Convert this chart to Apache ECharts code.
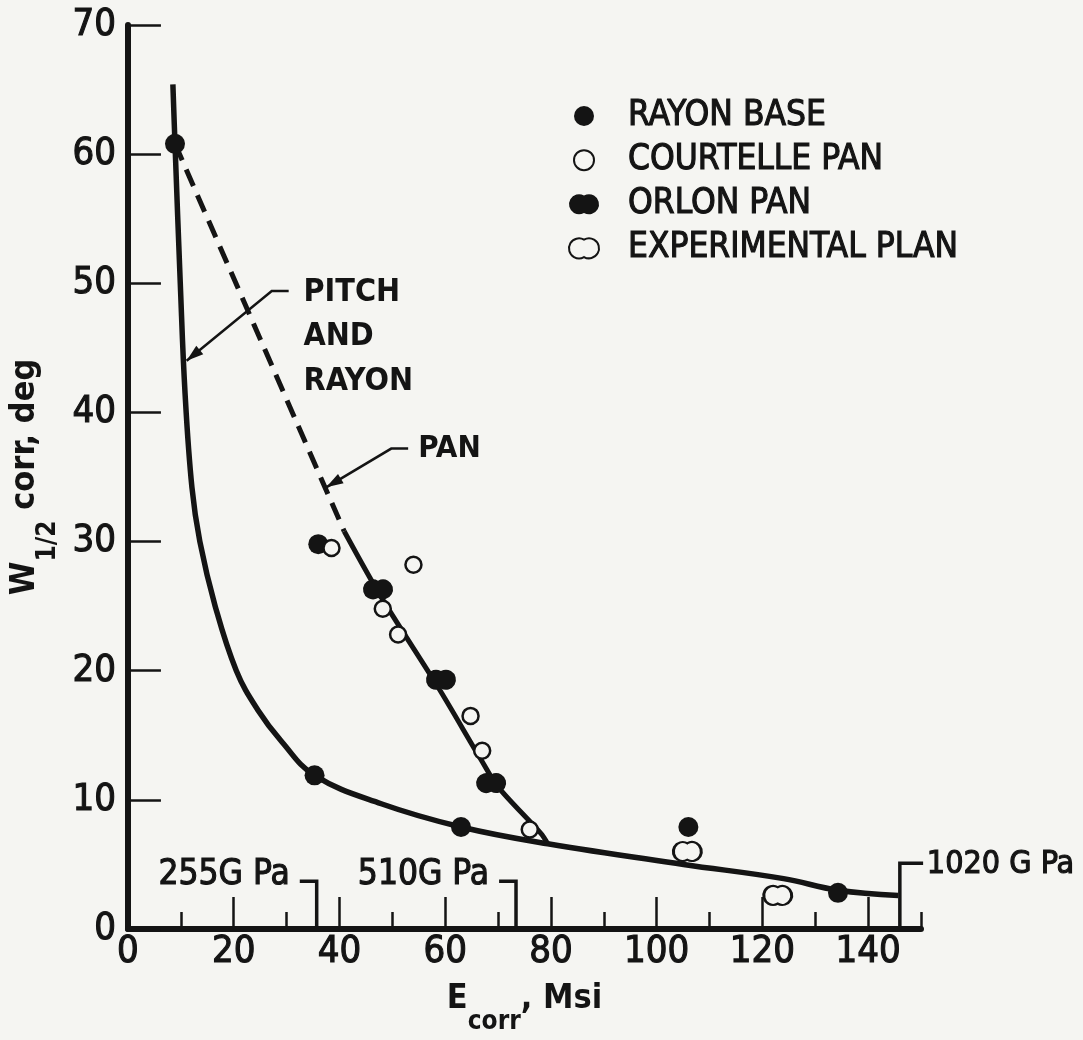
<!DOCTYPE html>
<html><head><meta charset="utf-8">
<script src="https://cdn.jsdelivr.net/npm/echarts@6/dist/echarts.min.js"></script>
<style>html,body{margin:0;padding:0;background:#f5f5f2}#c{width:1083px;height:1040px}</style>
</head><body><div id="c"></div>
<script>
// ---- data ----
const rayonBase = [[8.9, 60.8], [36.0, 29.8], [35.3, 11.9], [63.0, 7.9], [106.0, 7.9], [134.3, 2.8]];
const courtellePan = [[38.5, 29.5], [54.0, 28.2], [48.2, 24.8], [51.1, 22.8], [64.8, 16.5], [67.0, 13.8], [76.0, 7.7]];
const orlonPan = [[47.3, 26.3], [59.2, 19.3], [68.7, 11.3]];
const experimentalPlan = [[105.8, 6.0], [122.9, 2.6]];
const pitchRayonCurve = [[8.5, 65.4], [8.9, 60.8], [9.9, 50.0], [10.8, 41.5], [12.1, 34.2], [13.6, 30.0], [16.5, 25.0], [20.5, 20.0], [24.5, 17.0], [29.1, 14.5], [35.3, 11.9], [47.9, 9.7], [63.0, 7.9], [79.4, 6.6], [105.1, 5.0], [124.0, 3.9], [134.3, 3.0], [145.7, 2.6]];
const panDashed = [[8.9, 60.8], [40.9, 30.8]];
const panSolid = [[40.9, 30.8], [47.9, 25.7], [58.7, 18.7], [66.8, 13.1], [70.0, 11.0], [78.1, 7.4], [79.4, 6.6]];
const xTickLabels = [0, 20, 40, 60, 80, 100, 120, 140];
const xMajorTicks = [20, 40, 60, 80, 100, 120, 140];
const yTickLabels = [0, 10, 20, 30, 40, 50, 60, 70];
const seriesNames = ['RAYON BASE', 'COURTELLE PAN', 'ORLON PAN', 'EXPERIMENTAL PLAN'];

// ---- annotation anchors (data units) ----
const notes = {
  pitchLines: [['PITCH', 33.2, 49.3], ['AND', 33.2, 45.9], ['RAYON', 33.2, 42.4]],
  pitchLeader: [[30.4, 49.4], [27.2, 49.4], [11.1, 44.0]],
  pan: ['PAN', 54.9, 37.2],
  panLeader: [[53.0, 37.2], [49.8, 37.2], [37.5, 34.2]],
  brackets: [
    {line: [[32.5, 3.7], [35.7, 3.7], [35.7, 0]], text: '255G Pa', at: [30.6, 4.2], align: 'right', size: 35},
    {line: [[70.2, 3.7], [73.4, 3.7], [73.4, 0]], text: '510G Pa', at: [68.3, 4.2], align: 'right', size: 35},
    {line: [[150.4, 5.1], [146.0, 5.1], [146.0, 0]], text: '1020 G Pa', at: [151.1, 5.0], align: 'left', size: 32}
  ]
};

const ink = '#141414';
const bg = '#f5f5f2';
const NARROW = "'Liberation Sans Narrow', 'DejaVu Sans Condensed', sans-serif";
const COND = "'DejaVu Sans Condensed', 'Liberation Sans Narrow', sans-serif";
const PEANUT = 'path://M0,-8.66A10,10 0 1,0 0,8.66A10,10 0 1,0 0,-8.66Z';
const heavy = {textBorderColor: ink, textBorderWidth: 1.1};

const chart = echarts.init(document.getElementById('c'));
const nameRich = {
  m: {fontFamily: COND, fontWeight: 'bold', fontSize: 34, color: ink, lineHeight: 40, verticalAlign: 'top'},
  s: {fontFamily: COND, fontWeight: 'bold', fontSize: 26, color: ink, lineHeight: 30, padding: [27, 0, 0, 0], verticalAlign: 'top'}
};
const option = {
  backgroundColor: bg,
  animation: false,
  grid: {left: 126, right: 162, top: 25, bottom: 107, containLabel: false},
  legend: {
    data: seriesNames, orient: 'vertical', left: 563, top: 93,
    itemWidth: 78, itemHeight: 20, itemGap: 8, symbolKeepAspect: true,
    selectedMode: false,
    textStyle: Object.assign({fontFamily: COND, fontSize: 35, color: ink, lineHeight: 36}, heavy)
  },
  xAxis: [{
    type: 'value', min: 0, max: 150, interval: 10,
    name: '{m|E}{s|corr}{m|, Msi}', nameLocation: 'middle', nameGap: 53,
    nameTextStyle: {rich: nameRich},
    axisLine: {show: true, onZero: false, lineStyle: {color: ink, width: 6}},
    axisTick: {show: true, inside: true, length: 32, customValues: xMajorTicks, lineStyle: {color: ink, width: 2.5}},
    axisLabel: Object.assign({customValues: xTickLabels, margin: 4, fontFamily: NARROW, fontSize: 38, color: ink}, heavy),
    splitLine: {show: false}
  }, {
    type: 'value', min: 0, max: 150, interval: 10, position: 'bottom',
    axisLine: {show: false},
    axisTick: {show: true, inside: true, length: 17, lineStyle: {color: ink, width: 2.5}},
    axisLabel: {show: false}, splitLine: {show: false}
  }],
  yAxis: {
    type: 'value', min: 0, max: 70, interval: 10,
    name: '{m|W}{s|1/2}{m| corr, deg}', nameLocation: 'middle', nameGap: 63, nameRotate: 90,
    nameTextStyle: {rich: nameRich},
    axisLine: {show: true, onZero: false, lineStyle: {color: ink, width: 6}},
    axisTick: {show: true, inside: true, length: 33, lineStyle: {color: ink, width: 2.5}},
    axisLabel: Object.assign({customValues: yTickLabels, margin: 12, fontFamily: NARROW, fontSize: 38, color: ink}, heavy),
    splitLine: {show: false}
  },
  series: [
    {type: 'line', name: 'pitch', data: pitchRayonCurve, symbol: 'none', smooth: 0.4,
     lineStyle: {color: ink, width: 5.5}, z: 2},
    {type: 'line', name: 'panDash', data: panDashed, symbol: 'none',
     lineStyle: {color: ink, width: 5, type: [18, 10]}, z: 2},
    {type: 'line', name: 'panSolid', data: panSolid, symbol: 'none', smooth: 0.3,
     lineStyle: {color: ink, width: 5}, z: 2},
    {type: 'scatter', name: seriesNames[0], data: rayonBase, symbol: 'circle', symbolSize: 20,
     itemStyle: {color: ink, opacity: 1}, z: 4},
    {type: 'scatter', name: seriesNames[1], data: courtellePan, symbol: 'circle', symbolSize: 16,
     itemStyle: {color: bg, borderColor: ink, borderWidth: 2.5, opacity: 1}, z: 5},
    {type: 'scatter', name: seriesNames[2], data: orlonPan, symbol: PEANUT, symbolSize: [30, 20],
     itemStyle: {color: ink, opacity: 1}, z: 4},
    {type: 'scatter', name: seriesNames[3], data: experimentalPlan, symbol: PEANUT, symbolSize: [28, 19],
     itemStyle: {color: bg, borderColor: ink, borderWidth: 2.5, opacity: 1}, z: 5}
  ]
};
chart.setOption(option);

const P = p => chart.convertToPixel({gridIndex: 0}, p);
const gfx = [];
function leader(pts) {
  const px = pts.map(P);
  gfx.push({type: 'polyline', shape: {points: px}, style: {stroke: ink, lineWidth: 2.5, fill: null}, z: 10});
  const T = px[px.length - 1], F = px[px.length - 2];
  let dx = T[0] - F[0], dy = T[1] - F[1];
  const L = Math.hypot(dx, dy); dx /= L; dy /= L;
  const bx = T[0] - dx * 17, by = T[1] - dy * 17;
  gfx.push({type: 'polygon', shape: {points: [T, [bx - dy * 5.5, by + dx * 5.5], [bx + dy * 5.5, by - dx * 5.5]]},
            style: {fill: ink}, z: 10});
}
function label(text, at, align, font, border) {
  const p = P(at);
  const st = {text: text, fill: ink, font: font, textAlign: align, textVerticalAlign: 'middle'};
  if (border) { st.stroke = ink; st.lineWidth = border; }
  gfx.push({type: 'text', x: p[0], y: p[1], z: 10, style: st});
}
notes.pitchLines.forEach(l => label(l[0], [l[1], l[2]], 'left', 'bold 32px ' + COND));
leader(notes.pitchLeader);
label(notes.pan[0], [notes.pan[1], notes.pan[2]], 'left', 'bold 31px ' + COND);
leader(notes.panLeader);
notes.brackets.forEach(b => {
  gfx.push({type: 'polyline', shape: {points: b.line.map(P)}, style: {stroke: ink, lineWidth: 3.5, fill: null}, z: 10});
  label(b.text, b.at, b.align, b.size + 'px ' + COND, 1.1);
});
chart.setOption({graphic: gfx});
</script>
</body></html>
